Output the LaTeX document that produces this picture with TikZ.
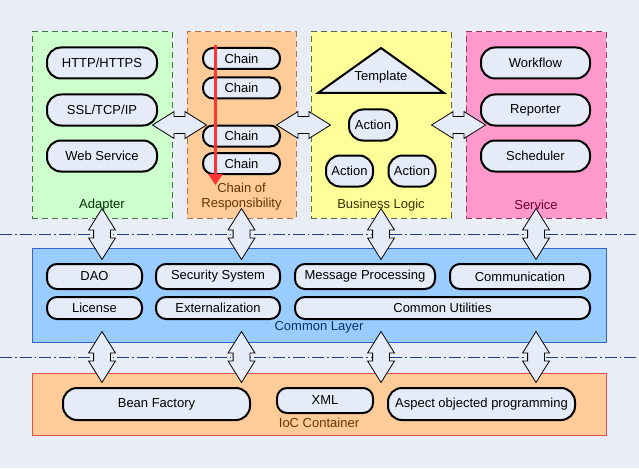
\documentclass[tikz,border=0pt]{standalone}
\usepackage{fontspec}
\setmainfont{Liberation Sans}
\usetikzlibrary{shapes.arrows,positioning,arrows.meta,calc}

\definecolor{bgcol}{HTML}{E9EEF6}
\definecolor{pillfill}{HTML}{E6ECF7}
\definecolor{adfill}{HTML}{CCFFCC}
\definecolor{adline}{HTML}{3A7A3A}
\definecolor{adtext}{HTML}{003300}
\definecolor{chfill}{HTML}{FFCC99}
\definecolor{chline}{HTML}{B07040}
\definecolor{chtext}{HTML}{663300}
\definecolor{blfill}{HTML}{FFFF99}
\definecolor{blline}{HTML}{666633}
\definecolor{bltext}{HTML}{333300}
\definecolor{svfill}{HTML}{FF99CC}
\definecolor{svline}{HTML}{993366}
\definecolor{svtext}{HTML}{660033}
\definecolor{cmfill}{HTML}{99CCFF}
\definecolor{cmline}{HTML}{3366CC}
\definecolor{cmtext}{HTML}{003366}
\definecolor{iofill}{HTML}{FFCC99}
\definecolor{ioline}{HTML}{E84C4C}
\definecolor{iotext}{HTML}{663300}
\definecolor{sepcol}{HTML}{1F3F7F}
\definecolor{flowred}{HTML}{FF3333}

\begin{document}
\begin{tikzpicture}[x=1pt, y=-1pt,
        every node/.style={font=\fontsize{13}{15}\selectfont, inner sep=0pt},
        pill/.style={draw, line width=2pt, fill=pillfill, rounded corners=#1, minimum height=31pt},
        pill/.default=14pt,
        small/.style={minimum height=23pt, rounded corners=10pt},
        grp/.style={draw=#1, line width=1pt, dash pattern=on 6pt off 4pt},
        layer/.style={draw=#1, line width=1pt},
        lbl/.style={align=center, inner sep=1pt},
        fatarrow/.style={double arrow, draw, fill=pillfill, line width=0.8pt, double arrow head extend=5pt, double arrow tip angle=64},
        hor/.style={minimum height=54pt, inner xsep=0pt, inner ysep=8pt},
        vert/.style={shape border rotate=90, minimum height=51pt, inner xsep=8pt, inner ysep=0pt},
        sepline/.style={draw=sepcol, line width=1pt, dash pattern=on 12pt off 3pt on 1.5pt off 3pt},
        flow/.style={draw=flowred, line width=3.5pt, -{Triangle[width=14pt,length=11pt]}}
    ]
 \fill[bgcol] (0,0) rectangle (639,468);
 \useasboundingbox (0,0) rectangle (639,468);

 \node[grp=adline, fill=adfill, minimum width=140pt, minimum height=186pt] (adapter) at (102,125) {};
 \node[grp=chline, fill=chfill, minimum width=109pt, minimum height=186pt] (chain) at (241.5,125) {};
 \node[grp=blline, fill=blfill, minimum width=140pt, minimum height=186pt] (logic) at (381,125) {};
 \node[grp=svline, fill=svfill, minimum width=140pt, minimum height=186pt] (service) at (536,125) {};
 \node[layer=cmline, fill=cmfill, minimum width=574pt, minimum height=94pt] (common) at (319,295) {};
 \node[layer=ioline, fill=iofill, minimum width=574pt, minimum height=62pt] (ioc) at (319,404) {};

 \coordinate (sepA) at (0,234);
 \coordinate (sepAend) at (639,234);
 \coordinate (sepB) at (0,357);
 \coordinate (sepBend) at (639,357);
 \draw[sepline] (sepA) -- (sepAend);
 \draw[sepline] (sepB) -- (sepBend);

 \node[fatarrow, hor] (h1) at ($(adapter.east)!0.5!(chain.west)$) {};
 \node[fatarrow, hor] (h2) at ($(chain.east)!0.5!(logic.west)$) {};
 \node[fatarrow, hor] (h3) at ($(logic.east)!0.5!(service.west)$) {};
 \node[fatarrow, vert] (v1) at (adapter.south |- sepA) {};
 \node[fatarrow, vert] (v2) at (chain.south |- sepA) {};
 \node[fatarrow, vert] (v3) at (logic.south |- sepA) {};
 \node[fatarrow, vert] (v4) at (service.south |- sepA) {};
 \node[fatarrow, vert] (w1) at (adapter.south |- sepB) {};
 \node[fatarrow, vert] (w2) at (chain.south |- sepB) {};
 \node[fatarrow, vert] (w3) at (logic.south |- sepB) {};
 \node[fatarrow, vert] (w4) at (service.south |- sepB) {};

 \node[pill, minimum width=110pt] (http) at (102,63) {HTTP/HTTPS};
 \node[pill, minimum width=110pt] (ssl) at (102,110) {SSL/TCP/IP};
 \node[pill, minimum width=110pt] (web) at (102,156) {Web Service};

 \node[pill, small, minimum width=77pt, minimum height=21pt] (chain1) at (241.5,58.5) {Chain};
 \node[pill, small, minimum width=77pt, minimum height=21pt] (chain2) at (241.5,88) {Chain};
 \node[pill, small, minimum width=77pt, minimum height=21pt] (chain3) at (241.5,136) {Chain};
 \node[pill, small, minimum width=77pt, minimum height=21pt] (chain4) at (241.5,163.5) {Chain};
 \coordinate (flowtop) at (215.5,45);
 \coordinate (flowend) at (215.5,185);
 \draw[flow] (flowtop) -- (flowend);

 \coordinate (tapex) at (381,48);
 \coordinate (tright) at (444,93);
 \coordinate (tleft) at (318,93);
 \draw[line width=2pt, fill=pillfill] (tapex) -- (tright) -- (tleft) -- cycle;
 \node (template) at (381,77) {Template};
 \node[pill, minimum width=48pt] (act1) at (373,125) {Action};
 \node[pill, minimum width=47pt] (act2) at (349.5,171) {Action};
 \node[pill, minimum width=47pt] (act3) at (412,171) {Action};

 \node[pill, minimum width=109pt] (workflow) at (535.5,63) {Workflow};
 \node[pill, minimum width=109pt] (reporter) at (535.5,110) {Reporter};
 \node[pill, minimum width=109pt] (scheduler) at (535.5,156) {Scheduler};

 \node[pill, small, minimum width=95pt, minimum height=25pt] (dao) at (94.5,276.5) {DAO};
 \node[pill, small, minimum width=124pt, minimum height=25pt] (security) at (218,276.5) {Security System};
 \node[pill, small, minimum width=140pt, minimum height=25pt] (message) at (365,276.5) {Message Processing};
 \node[pill, small, minimum width=140pt, minimum height=25pt] (comm) at (520,276.5) {Communication};
 \node[pill, small, minimum width=95pt, minimum height=22pt] (license) at (94.5,308) {License};
 \node[pill, small, minimum width=124pt, minimum height=22pt] (extern) at (218,308) {Externalization};
 \node[pill, small, minimum width=295pt, minimum height=22pt] (utils) at (442.5,308) {Common Utilities};

 \node[pill, minimum width=187pt, minimum height=32pt] (bean) at (156.5,404) {Bean Factory};
 \node[pill, small, minimum width=96pt, minimum height=25pt] (xml) at (325,400.5) {XML};
 \node[pill, minimum width=187pt, minimum height=32pt] (aop) at (481.5,404) {Aspect objected programming};

 \node[lbl, text=adtext, above=6pt of adapter.south] (adlbl) {Adapter};
 \node[lbl, text=chtext, above=7pt of chain.south] (chlbl) {Chain of\\Responsibility};
 \node[lbl, text=bltext, above=6pt of logic.south] (bllbl) {Business Logic};
 \node[lbl, text=svtext, above=8pt of service.south] (svlbl) {Service};
 \node[lbl, text=cmtext, above=8pt of common.south] (cmlbl) {Common Layer};
 \node[lbl, text=iotext, above=7pt of ioc.south] (iolbl) {IoC Container};
\end{tikzpicture}
\end{document}
